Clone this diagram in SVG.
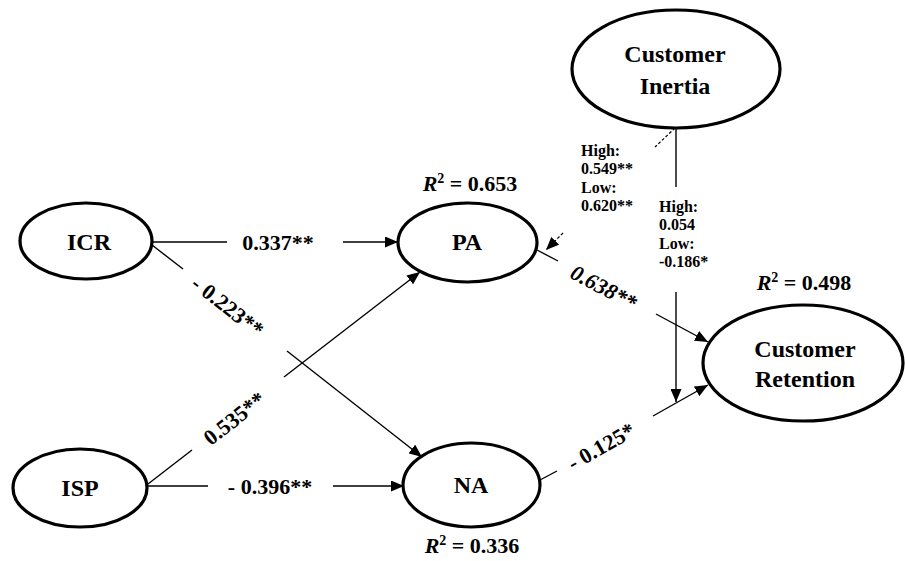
<svg xmlns="http://www.w3.org/2000/svg" width="905" height="561" viewBox="0 0 905 561">
<style>
  text { font-family: "Liberation Serif", "Times New Roman", serif; font-weight: bold; fill: #000; }
  .node { fill: #fff; stroke: #000; stroke-width: 3.2; }
  .nl { font-size: 24px; text-anchor: middle; }
  .el { font-size: 22px; text-anchor: middle; }
  .r2 { font-size: 22px; text-anchor: middle; }
  .sm { font-size: 16px; }
  .c { stroke: #000; stroke-width: 1.4; fill: none; }
  .d { stroke: #000; stroke-width: 1.2; fill: none; stroke-dasharray: 3 2; }
</style>
<defs>
  <marker id="arr" markerWidth="13" markerHeight="11" refX="13" refY="5.5" orient="auto" markerUnits="userSpaceOnUse">
    <path d="M0,0 L13,5.5 L0,11 z" fill="#000"/>
  </marker>
</defs>
<rect width="905" height="561" fill="#fff"/>

<g id="connectors">
  <!-- ICR -> PA -->
  <line class="c" x1="152" y1="242" x2="227" y2="242"/>
  <line class="c" x1="343" y1="242" x2="398" y2="242" marker-end="url(#arr)"/>
  <text class="el" x="278" y="250">0.337**</text>
  <!-- ICR -> NA -->
  <line class="c" x1="152" y1="245" x2="183" y2="269"/>
  <line class="c" x1="287" y1="351" x2="422" y2="457" marker-end="url(#arr)"/>
  <text class="el" transform="translate(228,306) rotate(38)" dy="8">- 0.223**</text>
  <!-- ISP -> PA -->
  <line class="c" x1="148" y1="484" x2="192" y2="450"/>
  <line class="c" x1="284" y1="377" x2="420" y2="272" marker-end="url(#arr)"/>
  <text class="el" transform="translate(234,418) rotate(-38)" dy="8">0.535**</text>
  <!-- ISP -> NA -->
  <line class="c" x1="147" y1="486" x2="208" y2="486"/>
  <line class="c" x1="333" y1="486" x2="404" y2="486" marker-end="url(#arr)"/>
  <text class="el" x="270" y="494">- 0.396**</text>
  <!-- PA -> CR -->
  <line class="c" x1="537" y1="250" x2="558" y2="261"/>
  <line class="c" x1="656" y1="314" x2="708" y2="342" marker-end="url(#arr)"/>
  <text class="el" font-style="italic" transform="translate(604,287) rotate(28)" dy="8">0.638**</text>
  <!-- NA -> CR -->
  <line class="c" x1="540" y1="480" x2="557" y2="471"/>
  <line class="c" x1="653" y1="416" x2="708" y2="385" marker-end="url(#arr)"/>
  <text class="el" transform="translate(601,446) rotate(-29.5)" dy="8">- 0.125*</text>
  <!-- Inertia -> PA->CR path (moderation, dashed) -->
  <line class="d" x1="675" y1="128" x2="655" y2="147"/>
  <line class="d" x1="563" y1="233" x2="546" y2="250" marker-end="url(#arr)"/>
  <text class="sm" x="581" y="156">High:</text>
  <text class="sm" x="581" y="174">0.549**</text>
  <text class="sm" x="581" y="193">Low:</text>
  <text class="sm" x="581" y="211">0.620**</text>
  <!-- Inertia -> NA->CR path -->
  <line class="c" x1="676" y1="128" x2="676" y2="187"/>
  <line class="c" x1="676" y1="292" x2="676" y2="402" marker-end="url(#arr)"/>
  <text class="sm" x="659" y="212">High:</text>
  <text class="sm" x="659" y="230">0.054</text>
  <text class="sm" x="659" y="249">Low:</text>
  <text class="sm" x="659" y="267">-0.186*</text>
</g>

<g id="ICR">
  <ellipse class="node" cx="86" cy="241" rx="66" ry="38"/>
  <text class="nl" x="89" y="250">ICR</text>
</g>
<g id="ISP">
  <ellipse class="node" cx="80" cy="488" rx="67" ry="39"/>
  <text class="nl" x="80" y="496">ISP</text>
</g>
<g id="PA">
  <ellipse class="node" cx="467.5" cy="242.5" rx="69.5" ry="39.5"/>
  <text class="nl" x="467" y="250">PA</text>
  <text class="r2" x="470" y="191"><tspan font-style="italic">R</tspan><tspan font-size="14" dy="-8">2</tspan><tspan dy="8"> = 0.653</tspan></text>
</g>
<g id="NA">
  <ellipse class="node" cx="471.5" cy="485" rx="68.5" ry="42"/>
  <text class="nl" x="471" y="493">NA</text>
  <text class="r2" x="472" y="553"><tspan font-style="italic">R</tspan><tspan font-size="14" dy="-8">2</tspan><tspan dy="8"> = 0.336</tspan></text>
</g>
<g id="CustomerInertia">
  <ellipse class="node" cx="676" cy="69" rx="104" ry="59"/>
  <text class="nl" x="675" y="62">Customer</text>
  <text class="nl" x="675" y="94">Inertia</text>
</g>
<g id="CustomerRetention">
  <ellipse class="node" cx="803" cy="363" rx="100" ry="58"/>
  <text class="nl" x="805" y="357">Customer</text>
  <text class="nl" x="805" y="387">Retention</text>
  <text class="r2" x="804" y="290"><tspan font-style="italic">R</tspan><tspan font-size="14" dy="-8">2</tspan><tspan dy="8"> = 0.498</tspan></text>
</g>
</svg>
